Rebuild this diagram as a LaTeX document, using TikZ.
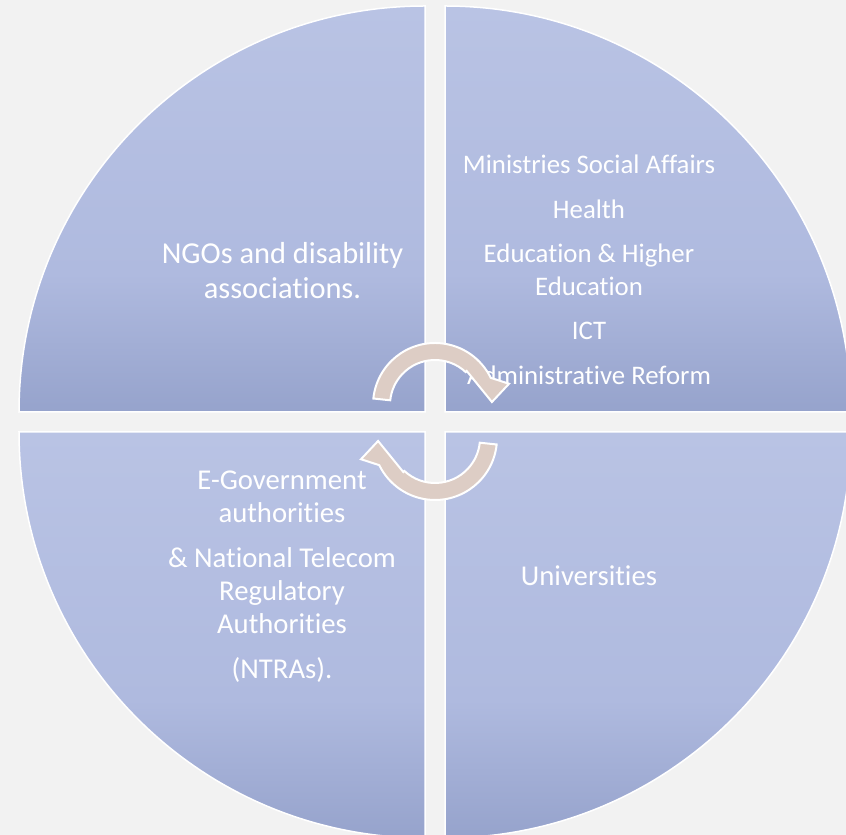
\documentclass[tikz,border=0pt]{standalone}
\usepackage{fontspec}
\setmainfont{Carlito}[RawFeature={-liga;-clig;-dlig}]
\usetikzlibrary{positioning}
\definecolor{bgcol}{HTML}{F2F2F2}
\definecolor{qlight}{HTML}{B9C3E4}
\definecolor{qmid}{HTML}{AFBADF}
\definecolor{qdark}{HTML}{96A3CC}
\definecolor{arrowcol}{HTML}{DDCDC5}
\pgfdeclareverticalshading{quadfill}{100bp}{color(0bp)=(qdark); color(25bp)=(qdark); color(42bp)=(qmid); color(75bp)=(qlight); color(100bp)=(qlight)}

\begin{document}
\begin{tikzpicture}[x=1pt,y=1pt]
        \tikzstyle{quad}=[draw=white,line width=1.5pt,shading=quadfill]
        \tikzstyle{cyc}=[fill=arrowcol,draw=white,line width=2pt,line join=miter]
        \tikzstyle{quadtext}=[text=white,align=center,inner sep=0pt]
        \fill[bgcol] (0,0) rectangle (846,835);
        \useasboundingbox (0,0) rectangle (846,835);
        \clip (0,0) rectangle (846,835);
        % four quarters
        \shade[quad] (425,423) -- (19,423) arc[start angle=180,end angle=90,radius=406] -- cycle;
        \shade[quad] (445,423) -- (445,829) arc[start angle=90,end angle=0,radius=406] -- cycle;
        \shade[quad] (425,403) -- (19,403) arc[start angle=180,end angle=270,radius=406] -- cycle;
        \shade[quad] (445,403) -- (851,403) arc[start angle=0,end angle=-90,radius=406] -- cycle;
        % texts
        \node[quadtext,font=\fontsize{30.4}{35}\selectfont] (ngo) at (282.5,564)
            {NGOs and disability\\associations.};
        \node[quadtext,font=\fontsize{26.8}{32.5}\selectfont] (min) at (589,565)
            {Ministries Social Affairs\\[12pt]Health\\[12pt]Education \& Higher\\Education\\[12pt]ICT\\[12pt]Administrative Reform};
        \node[quadtext,font=\fontsize{28.7}{33}\selectfont] (egov) at (282,258)
            {E-Government\\authorities\\[12pt]\& National Telecom\\Regulatory\\Authorities\\[12pt](NTRAs).};
        \node[quadtext,font=\fontsize{28.7}{33}\selectfont] (uni) at (589,259) {Universities};
        % cycle arrows
        \foreach \r in {0,180}{
        \begin{scope}[shift={(435,413.5)},rotate=\r,shift={(0,16.5)}]
            \draw[cyc] (174:62) arc[start angle=174,end angle=26,radius=62] -- (16:77) -- (3:57)
                -- (47:46.5) -- (47:45) arc[start angle=47,end angle=174,radius=45] -- cycle;
        \end{scope}
        }
\end{tikzpicture}
\end{document}
